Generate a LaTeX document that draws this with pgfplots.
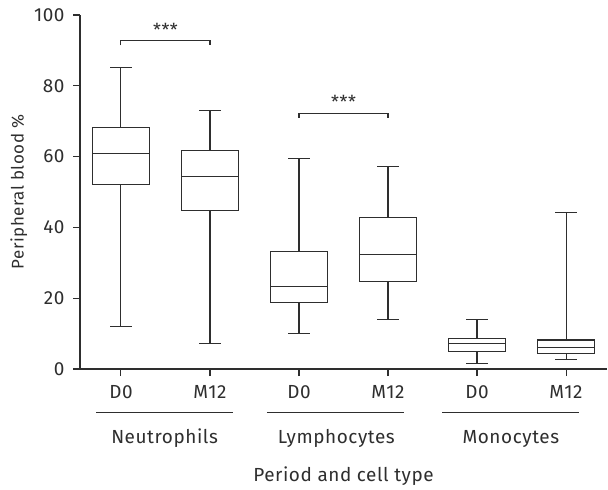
\documentclass[border=0pt]{standalone}
\usepackage{fontspec}
\setmainfont{Fira Sans}[LetterSpace=3]
\usepackage{pgfplots}
\pgfplotsset{compat=1.18}
\usepgfplotslibrary{statistics}
\definecolor{ink}{HTML}{2E2E2E}

\begin{document}
\begin{tikzpicture}[font=\fontsize{19}{22}\selectfont, text=ink]
  \begin{axis}[
      scale only axis,
      width=527bp, height=354bp,
      xmin=-0.46, xmax=5.46,
      ymin=0, ymax=100,
      axis x line*=bottom,
      axis y line*=left,
      axis line style={ink, line width=1.2pt},
      xtick={0,...,5},
      xticklabels={D0,M12,D0,M12,D0,M12},
      ytick={0,20,...,100},
      tick align=outside,
      major tick length=7bp,
      tick style={ink, line width=1.1pt},
      xticklabel style={yshift=-6bp},
      yticklabel style={xshift=-5bp},
      /pgf/number format/assume math mode=true,
      ylabel={Peripheral blood \%},
      ylabel style={font=\fontsize{17}{20}\selectfont, at={(axis description cs:-0.1072,0.5)}, anchor=base},
      clip=false,
      boxplot/draw direction=y,
      boxplot/box extend=0.64,
      boxplot/whisker extend=0.24,
    ]

    % neutrophils
    \addplot[ink, line width=1.1pt, boxplot prepared={draw position=0,
        lower whisker=12.0, lower quartile=52.0, median=61.0,
        upper quartile=68.2, upper whisker=85.2}] coordinates {};
    \addplot[ink, line width=1.1pt, boxplot prepared={draw position=1,
        lower whisker=7.1, lower quartile=44.7, median=54.3,
        upper quartile=61.8, upper whisker=72.9}] coordinates {};
    % lymphocytes
    \addplot[ink, line width=1.1pt, boxplot prepared={draw position=2,
        lower whisker=10.0, lower quartile=18.8, median=23.4,
        upper quartile=33.3, upper whisker=59.4}] coordinates {};
    \addplot[ink, line width=1.1pt, boxplot prepared={draw position=3,
        lower whisker=13.9, lower quartile=24.7, median=32.3,
        upper quartile=42.9, upper whisker=57.3}] coordinates {};
    % monocytes
    \addplot[ink, line width=1.1pt, boxplot prepared={draw position=4,
        lower whisker=1.6, lower quartile=4.9, median=7.1,
        upper quartile=8.5, upper whisker=13.9}] coordinates {};
    \addplot[ink, line width=1.1pt, boxplot prepared={draw position=5,
        lower whisker=2.6, lower quartile=4.3, median=6.1,
        upper quartile=8.2, upper whisker=44.3}] coordinates {};

    % significance brackets
    \draw[ink, line width=1.1pt] (axis cs:0,91.4) -- (axis cs:0,92.8) -- (axis cs:1,92.8) -- (axis cs:1,91.4);
    \node[anchor=base, font=\fontsize{18}{20}\selectfont] at (axis cs:0.5,94.0) {***};
    \draw[ink, line width=1.1pt] (axis cs:2,71.0) -- (axis cs:2,72.3) -- (axis cs:3,72.3) -- (axis cs:3,71.0);
    \node[anchor=base, font=\fontsize{18}{20}\selectfont] at (axis cs:2.5,73.5) {***};

    % group lines and names
    \draw[ink, line width=1.1pt] (axis cs:-0.28,-12.25) -- (axis cs:1.26,-12.25);
    \draw[ink, line width=1.1pt] (axis cs:1.64,-12.25) -- (axis cs:3.18,-12.25);
    \draw[ink, line width=1.1pt] (axis cs:3.61,-12.25) -- (axis cs:5.15,-12.25);
    \node[anchor=base] at (axis cs:0.49,-21.0) {Neutrophils};
    \node[anchor=base] at (axis cs:2.42,-21.0) {Lymphocytes};
    \node[anchor=base] at (axis cs:4.38,-21.0) {Monocytes};
    \node[anchor=base] at (axis cs:2.5,-31.9) {Period and cell type};
  \end{axis}
  \path (current axis.south west) ++(-80bp,-120bp) coordinate (bl);
  \path (current axis.north east) ++(1bp,15bp) coordinate (tr);
  \path (bl) rectangle (tr);
\end{tikzpicture}
\end{document}
